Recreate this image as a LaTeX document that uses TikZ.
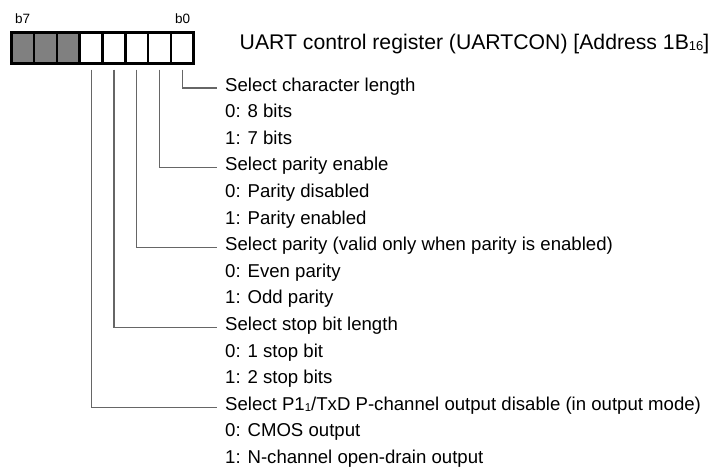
\documentclass[tikz,border=0pt]{standalone}
\usepackage{fontspec}
\setmainfont{Liberation Sans}
\newcommand{\subsc}[1]{\raisebox{-1pt}{\fontsize{11.5}{12}\selectfont #1}}
\newcommand{\tsubsc}[1]{\raisebox{-1pt}{\fontsize{13}{14}\selectfont #1}}
\begin{document}
\begin{tikzpicture}[x=1pt,y=-1pt,
  cell/.style={draw=black, line width=2.6pt, minimum width=22.8pt, minimum height=31pt, inner sep=0, anchor=north west, fill=white},
  graycell/.style={cell, fill=black!50},
  bitlbl/.style={font=\fontsize{13.5}{15}\selectfont, anchor=base west, inner sep=0},
  txt/.style={font=\fontsize{18.6}{20}\selectfont, anchor=base west, inner sep=0},
  ttl/.style={font=\fontsize{21.2}{23}\selectfont, anchor=base west, inner sep=0},
  conn/.style={draw=black!60, line width=1.2pt}
]
\useasboundingbox (0,0) rectangle (717,469);
% register cells
\foreach \k/\n in {0/7,1/6,2/5} {
  \node[graycell] (c\n) at ({10+22.8*\k},31) {};
}
\foreach \k/\n in {3/4,4/3,5/2,6/1,7/0} {
  \node[cell] (c\n) at ({10+22.8*\k},31) {};
}
\node[bitlbl] (lb7) at (15,23.3) {b7};
\node[bitlbl] (lb0) at (175,23.3) {b0};
\node[ttl] (title) at (239.5,49) {UART control register (UARTCON) [Address 1B\tsubsc{16}]};
% text rows
\def\rowy#1{91+26.6*#1}
\node[txt] (s0) at (225,{\rowy{0}}) {Select character length};
\node[txt] (a0) at (225,{\rowy{1}}) {0: 8 bits};
\node[txt] (b0) at (225,{\rowy{2}}) {1: 7 bits};
\node[txt] (s1) at (225,{\rowy{3}}) {Select parity enable};
\node[txt] (a1) at (225,{\rowy{4}}) {0: Parity disabled};
\node[txt] (b1) at (225,{\rowy{5}}) {1: Parity enabled};
\node[txt] (s2) at (225,{\rowy{6}}) {Select parity (valid only when parity is enabled)};
\node[txt] (a2) at (225,{\rowy{7}}) {0: Even parity};
\node[txt] (b2) at (225,{\rowy{8}}) {1: Odd parity};
\node[txt] (s3) at (225,{\rowy{9}}) {Select stop bit length};
\node[txt] (a3) at (225,{\rowy{10}}) {0: 1 stop bit};
\node[txt] (b3) at (225,{\rowy{11}}) {1: 2 stop bits};
\node[txt] (s4) at (225,{\rowy{12}}) {Select P1\subsc{1}/TxD P-channel output disable (in output mode)};
\node[txt] (a4) at (225,{\rowy{13}}) {0: CMOS output};
\node[txt] (b4) at (225,{\rowy{14}}) {1: N-channel open-drain output};
% connectors
\foreach \n in {0,1,2,3,4} {
  \draw[conn] ([yshift=-5pt]c\n.south) |- ([xshift=-8pt,yshift=3pt]s\n.base west);
}
\end{tikzpicture}
\end{document}
